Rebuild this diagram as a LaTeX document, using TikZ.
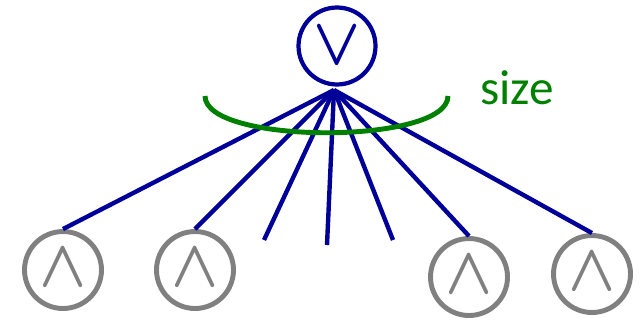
\documentclass[tikz,border=0pt]{standalone}
\usepackage{amsmath}
\usepackage{fontspec}
\setmainfont{Carlito}
\definecolor{orblue}{RGB}{0,0,153}
\definecolor{andgray}{RGB}{128,128,128}
\definecolor{sizegreen}{RGB}{0,128,0}
\newcommand{\opsym}[1]{\scalebox{3.5}[3.8]{$\boldsymbol{#1}$}}

\begin{document}
\begin{tikzpicture}[x=0.02cm,y=-0.02cm,
    ornode/.style={circle,draw=orblue,line width=2.4pt,minimum size=1.54cm,inner sep=0pt,text=orblue},
    andnode/.style={circle,draw=andgray,line width=2.8pt,minimum size=1.54cm,inner sep=0pt,text=andgray},
    wire/.style={draw=orblue,line width=2.5pt}]
    \useasboundingbox (0,0) rectangle (641,325);

    \node[ornode] (or) at (337,46) {\raisebox{-3pt}{\opsym{\vee}}};
    \coordinate (hub) at (334,90);

    \node[andnode] (and1) at (63,270) {\raisebox{2pt}{\opsym{\wedge}}};
    \node[andnode] (and2) at (195,270) {\raisebox{2pt}{\opsym{\wedge}}};
    \node[andnode] (and3) at (469,277) {\raisebox{2pt}{\opsym{\wedge}}};
    \node[andnode] (and4) at (592,274) {\raisebox{2pt}{\opsym{\wedge}}};

    \coordinate (e1) at (264,240);
    \coordinate (e2) at (327,245);
    \coordinate (e3) at (393,240);

    % fan of children
    \draw[wire] (hub) -- (and1.north);
    \draw[wire] (hub) -- (and2.north);
    \draw[wire] (hub) -- (e1);
    \draw[wire] (hub) -- (e2);
    \draw[wire] (hub) -- (e3);
    \draw[wire] (hub) -- (and3.north);
    \draw[wire] (hub) -- (and4.north);

    % size brace
    \draw[sizegreen,line width=2.8pt] (205,96) .. controls (205,145) and (448,145) .. (448,96);
    \node[text=sizegreen,font=\fontsize{28}{28}\selectfont] (size) at (517,88) {size};
\end{tikzpicture}
\end{document}
